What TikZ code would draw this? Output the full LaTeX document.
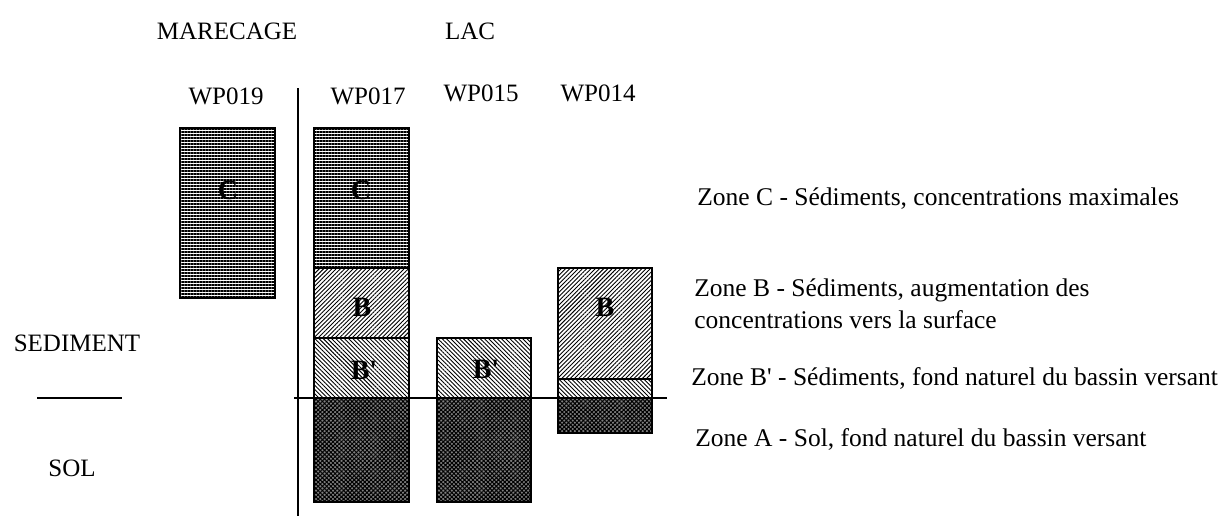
\documentclass[tikz,border=0pt]{standalone}
\usepackage{fontspec}
\setmainfont{Liberation Serif}
\usepackage{tikz}
\usetikzlibrary{patterns.meta}
\tikzset{
  txt/.style={font=\fontsize{12.5}{16}\selectfont, inner sep=0pt},
  legtxt/.style={font=\fontsize{12.75}{16}\selectfont, inner sep=0pt, anchor=west, align=left},
  zlab/.style={font=\fontsize{14}{16}\selectfont\bfseries, inner sep=0pt},
  zoneC/.style={draw=black, line width=0.6pt,
    pattern={Lines[angle=0,distance=1.5pt,line width=0.6pt]}},
  zoneB/.style={draw=black, line width=0.6pt,
    pattern={Lines[angle=45,distance=1.5pt,line width=0.45pt]}},
  zoneBp/.style={draw=black, line width=0.6pt,
    pattern={Lines[angle=-45,distance=1.5pt,line width=0.45pt]}},
  zoneA/.style={draw=black, line width=0.6pt, fill=black!50,
    postaction={pattern={Hatch[angle=45,distance=1.5pt,line width=0.5pt]}}},
  rule/.style={line width=0.6pt}
}
\begin{document}
\begin{tikzpicture}[x=0.5pt,y=-0.5pt]
  \useasboundingbox (0,0) rectangle (1228,516);
  % headers
  \node[txt] (marecage) at (227,31) {MARECAGE};
  \node[txt] (lac) at (470,31) {LAC};
  \node[txt] (wp019) at (226,96) {WP019};
  \node[txt] (wp017) at (368,96) {WP017};
  \node[txt] (wp015) at (481,93) {WP015};
  \node[txt] (wp014) at (598,93) {WP014};
  % left side
  \node[txt] (sediment) at (77,343) {SEDIMENT};
  \node[txt] (sol) at (72,468) {SOL};
  \coordinate (sepl) at (37,398);
  \coordinate (sepr) at (122,398);
  \draw[rule] (sepl) -- (sepr);
  % WP019
  \draw[zoneC] (180,128) rectangle (275,298);
  \node[zlab] (c019) at (228,190) {C};
  % WP017
  \draw[zoneC] (314,128) rectangle (409,268);
  \draw[zoneB] (314,268) rectangle (409,338);
  \draw[zoneBp] (314,338) rectangle (409,398);
  \draw[zoneA] (314,398) rectangle (409,502);
  \node[zlab] (c017) at (361,190) {C};
  \node[zlab] (b017) at (362,307) {B};
  \node[zlab] (bp017) at (364,370) {B\textquotesingle};
  % WP015
  \draw[zoneBp] (437,338) rectangle (531,398);
  \draw[zoneA] (437,398) rectangle (531,502);
  \node[zlab] (bp015) at (486,369) {B\textquotesingle};
  % WP014
  \draw[zoneB] (558,268) rectangle (652,379);
  \draw[zoneBp] (558,379) rectangle (652,398);
  \draw[zoneA] (558,398) rectangle (652,433);
  \node[zlab] (b014) at (605,307) {B};
  % separators
  \coordinate (vtop) at (298,88);
  \coordinate (vbot) at (298,516);
  \draw[rule] (vtop) -- (vbot);
  \coordinate (gl) at (294,398);
  \coordinate (gr) at (667,398);
  \draw[rule] (gl) -- (gr);
  % legend
  \node[legtxt] (legC) at (697,199) {Zone C - Sédiments, concentrations maximales};
  \node[legtxt] (legB) at (694,304) {Zone B - Sédiments, augmentation des\\concentrations vers la surface};
  \node[legtxt] (legBp) at (691,378) {Zone B\textquotesingle{} - Sédiments, fond naturel du bassin versant};
  \node[legtxt] (legA) at (695,439) {Zone A - Sol, fond naturel du bassin versant};
\end{tikzpicture}
\end{document}
